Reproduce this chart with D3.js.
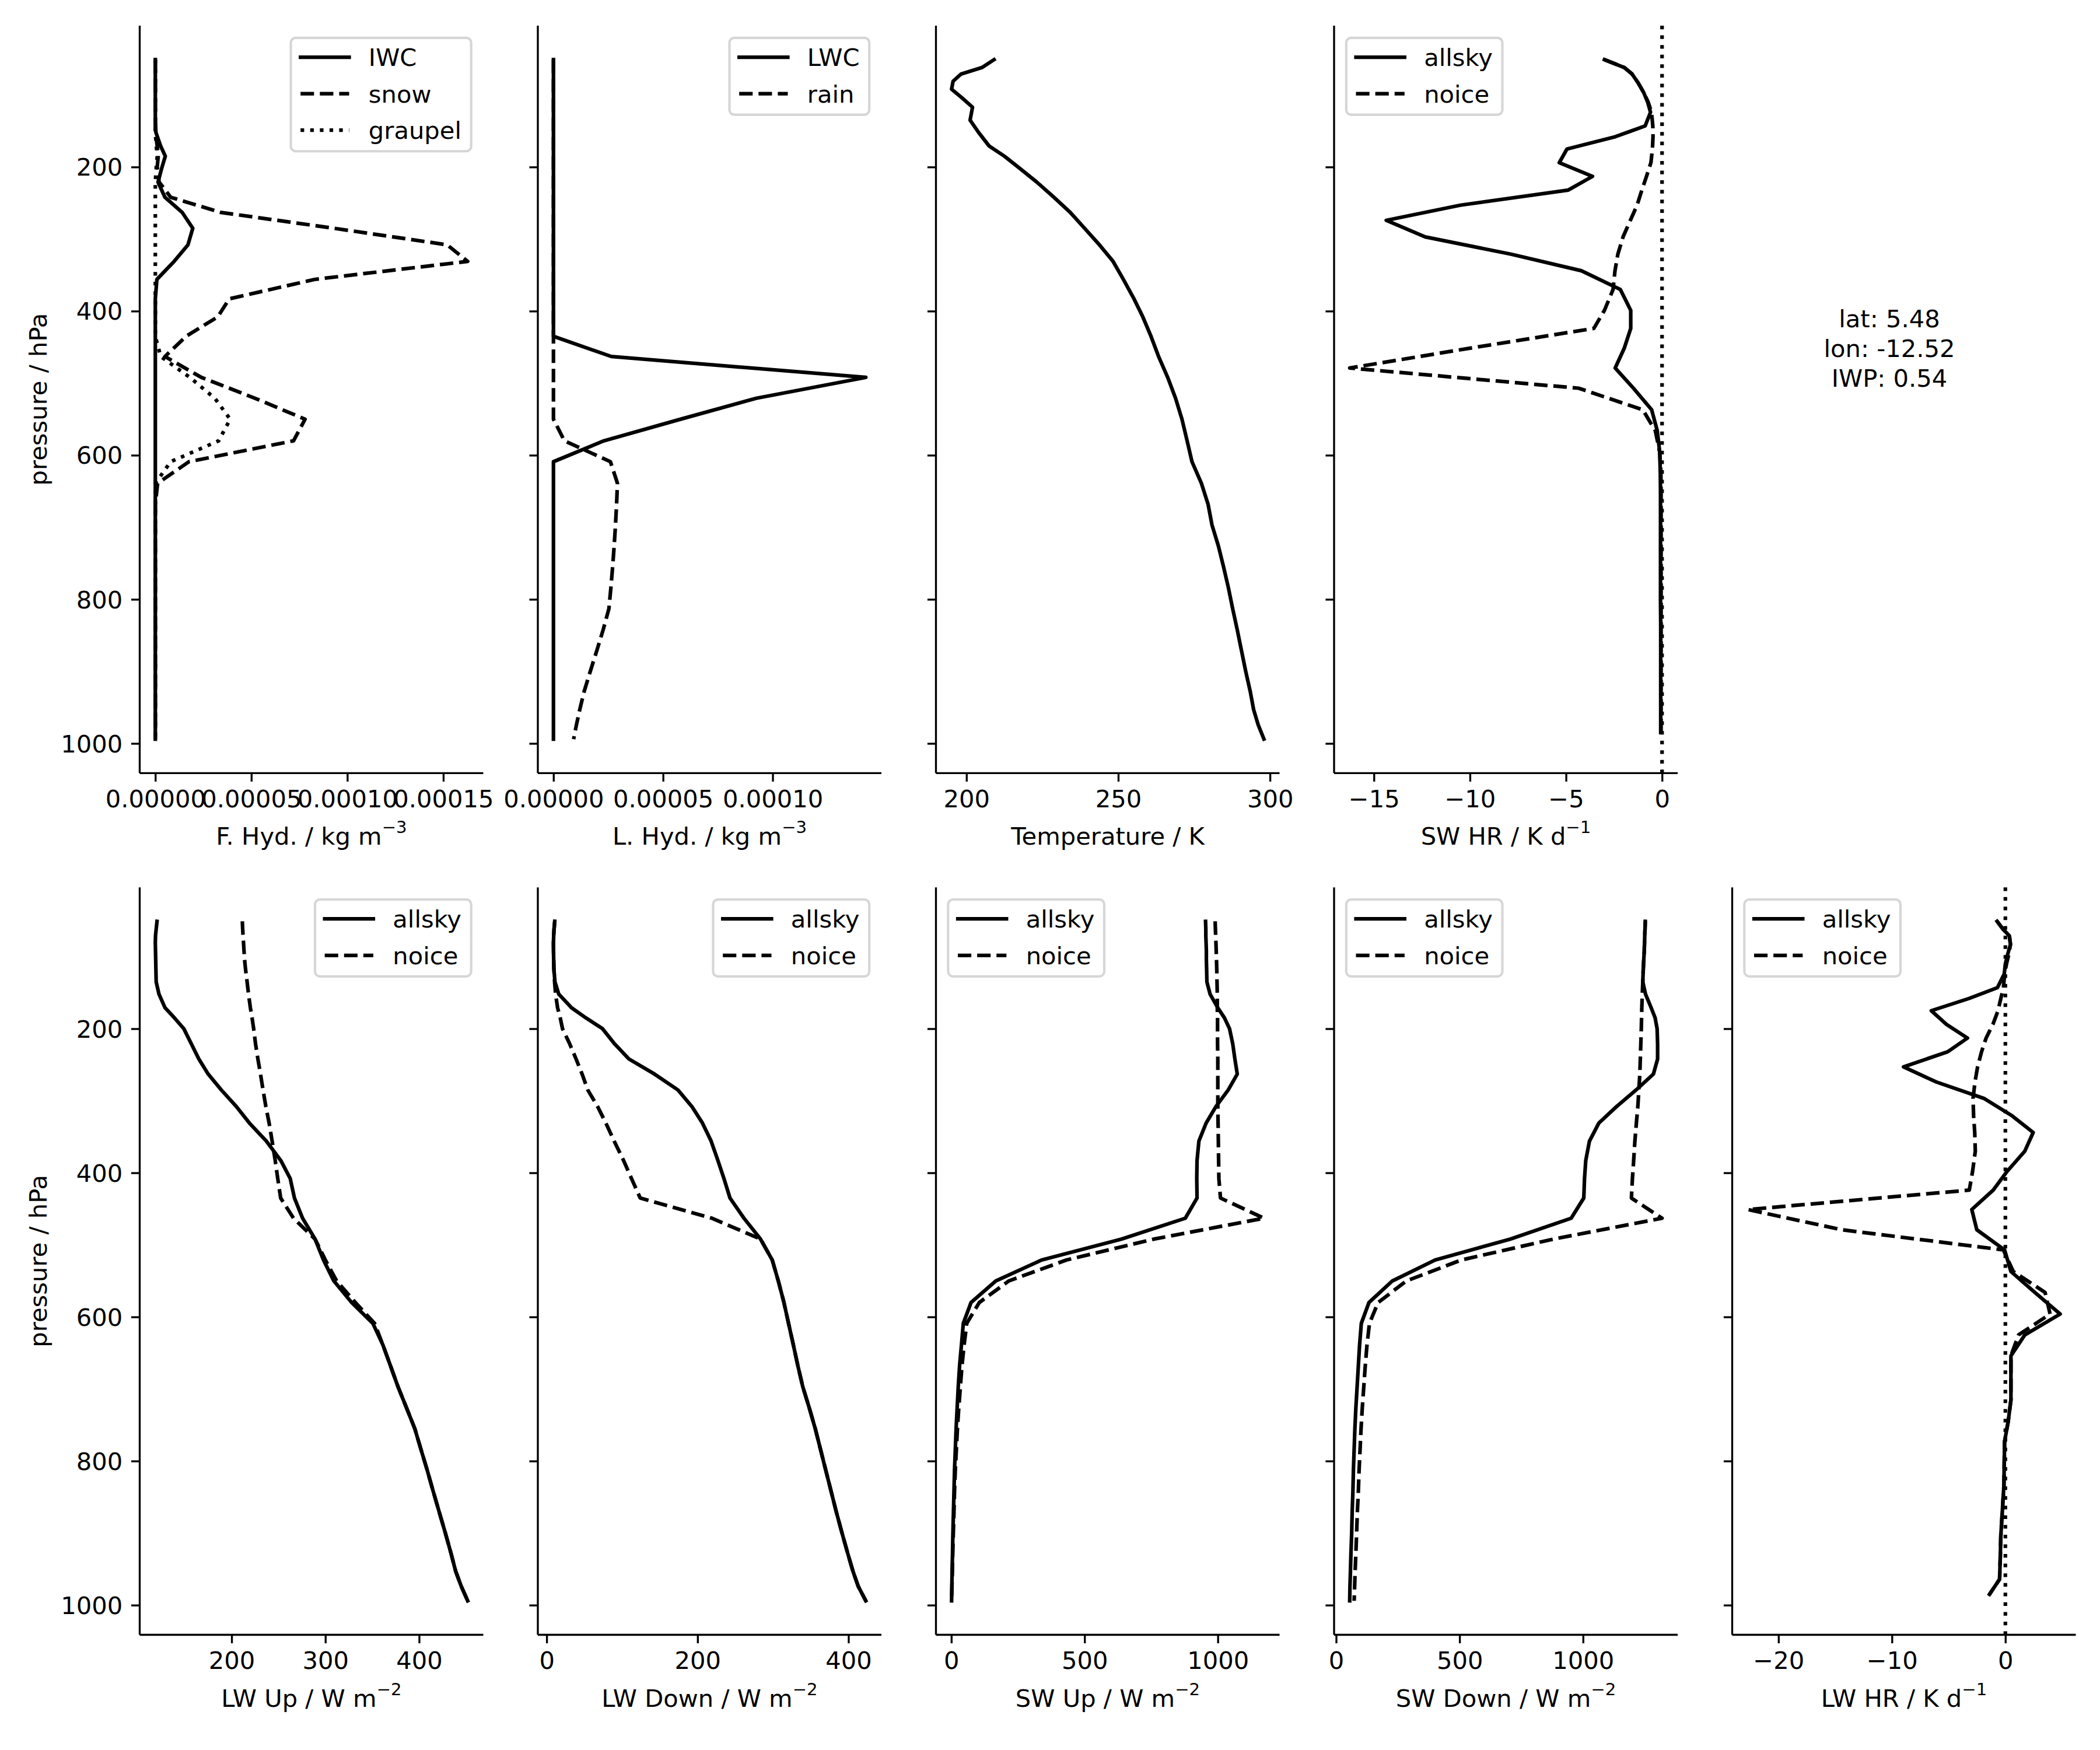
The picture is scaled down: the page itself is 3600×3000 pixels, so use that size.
<!DOCTYPE html>
<html>
<head>
<meta charset="utf-8">
<script src="https://cdn.jsdelivr.net/npm/d3@7"></script>
<style>
  body { margin: 0; background: #fff; }
  text { font-family: "DejaVu Sans", sans-serif; fill: #000; }
</style>
</head>
<body>
<svg id="chart" width="3600" height="3000"></svg>
<script>
// ---------------- DATA ----------------
// pressure levels (hPa) of state variables and fluxes
const pressure = [51, 62, 71, 81, 92, 104, 117, 135, 152, 171, 185, 200, 221, 242, 263, 285, 308, 331, 356, 383,
  408, 435, 463, 492, 521, 550, 580, 609, 639, 668, 697, 726, 755, 784, 813, 842, 871, 900, 928, 953, 974, 994];
// pressure levels (hPa) of heating rates
const pressureHR = [51, 62, 71, 83, 97, 110, 124, 143, 158, 175, 194, 213, 232, 253, 274, 297, 321, 344, 370, 399,
  424, 451, 479, 507, 537, 566, 596, 625, 654, 685, 715, 745, 773, 803, 834, 865, 903, 934, 964, 985];

// frozen hydrometeors (kg m-3)
const iwc = [0, 0, 0, 0, 0, 0, 0, 0, 3e-7, 2.8e-6, 5.2e-6, 3.5e-6, 1.4e-6, 5e-6, 1.4e-5, 1.95e-5, 1.7e-5, 9.8e-6, 8e-7, 0,
  0, 0, 0, 0, 0, 0, 0, 0, 0, 0, 0, 0, 0, 0, 0, 0, 0, 0, 0, 0, 0, 0];
const snow = [0, 0, 0, 0, 0, 0, 0, 0, 0, 1e-6, 1.5e-6, 1e-6, 2e-6, 8e-6, 3.4e-5, 9.3e-5, 1.52e-4, 1.627e-4, 8.3e-5, 3.85e-5,
  3.25e-5, 1.6e-5, 5e-6, 2.4e-5, 5.2e-5, 7.8e-5, 7.2e-5, 1.75e-5, 1.2e-6, 0, 0, 0, 0, 0, 0, 0, 0, 0, 0, 0, 0, 0];
const graupel = [0, 0, 0, 0, 0, 0, 0, 0, 0, 5e-7, 1e-6, 5e-7, 0, 0, 0, 0, 0, 0, 0, 0,
  0, 0, 2.8e-6, 1.8e-5, 3.1e-5, 3.9e-5, 3.3e-5, 8e-6, 0, 0, 0, 0, 0, 0, 0, 0, 0, 0, 0, 0, 0, 0];
// liquid hydrometeors (kg m-3)
const lwc = [0, 0, 0, 0, 0, 0, 0, 0, 0, 0, 0, 0, 0, 0, 0, 0, 0, 0, 0, 0,
  0, 0, 2.64e-5, 1.425e-4, 9.25e-5, 5.8e-5, 2.3e-5, 0, 0, 0, 0, 0, 0, 0, 0, 0, 0, 0, 0, 0, 0, 0];
const rain = [0, 0, 0, 0, 0, 0, 0, 0, 0, 0, 0, 0, 0, 0, 0, 0, 0, 0, 0, 0,
  0, 0, 0, 0, 0, 0, 5e-6, 2.6e-5, 2.92e-5, 2.88e-5, 2.83e-5, 2.77e-5, 2.7e-5, 2.62e-5, 2.53e-5, 2.27e-5, 1.98e-5, 1.68e-5, 1.4e-5, 1.2e-5, 1.05e-5, 9.2e-6];
// temperature (K)
const temperature = [209.1, 205.1, 198.2, 195.6, 195.1, 198.5, 202.0, 201.2, 204.0, 207.5, 212.5, 217.0, 223.2, 228.8, 234.2, 238.9, 243.8, 248.3, 251.7, 255.2,
  258.1, 260.8, 263.3, 266.3, 268.9, 271.0, 272.7, 274.3, 277.4, 279.6, 280.9, 283.0, 284.7, 286.3, 287.7, 289.2, 290.6, 292.0, 293.5, 294.6, 296.1, 298.0];
// shortwave heating rate (K d-1)
const swHrAllsky = [-3.0, -1.96, -1.56, -1.25, -0.95, -0.75, -0.6, -0.88, -2.44, -4.95, -5.35, -3.62, -4.88, -10.5, -14.36, -12.33, -7.86, -4.2, -2.17, -1.63,
  -1.63, -1.96, -2.44, -1.49, -0.54, -0.25, -0.12, -0.09, -0.08, -0.08, -0.08, -0.08, -0.08, -0.08, -0.07, -0.07, -0.07, -0.07, -0.07, -0.07];
const swHrNoice = [-3.0, -1.96, -1.56, -1.25, -0.95, -0.72, -0.55, -0.48, -0.47, -0.5, -0.58, -0.81, -1.05, -1.3, -1.65, -2.03, -2.3, -2.45, -2.55, -3.0,
  -3.55, -9.9, -16.26, -4.34, -1.0, -0.35, -0.12, -0.06, -0.05, -0.05, -0.05, -0.05, -0.05, -0.05, -0.05, -0.05, -0.05, -0.05, -0.05, -0.05];
// longwave fluxes (W m-2)
const lwUpAllsky = [120.4, 119.5, 118.8, 118.6, 118.8, 119.0, 119.2, 119.5, 122.5, 129, 139, 149, 157, 165, 175, 189, 205, 219, 237, 252.5,
  262.5, 267, 275.7, 289, 298, 309, 328, 350.7, 361.4, 369.5, 377.5, 386.5, 395.4, 402, 408.7, 415, 421.5, 428, 434, 439, 445, 451.8];
const lwUpNoice = [211.4, 211.8, 212.2, 212.7, 213.2, 213.8, 214.8, 216.5, 218, 220, 221.8, 223.5, 225.5, 228, 230.8, 233.5, 236.5, 240, 243.2, 246.5,
  249.2, 252.3, 266, 289, 300, 312, 332, 352.5, 361.4, 369.5, 377.5, 386.5, 395.4, 402, 408.7, 415, 421.5, 428, 434, 439, 445, 451.8];
const lwDownAllsky = [10.7, 9.8, 9.3, 9.0, 9.1, 9.3, 9.6, 11, 16, 33, 52, 74, 90, 109, 143, 174, 192.5, 206.5, 218, 227,
  235, 243, 261.5, 283.5, 299, 307, 314.5, 320.6, 327, 333, 339.5, 348, 356, 363, 370, 377, 384, 391.5, 399, 406, 413, 423];
const lwDownNoice = [10.7, 9.8, 9.3, 9.0, 9.1, 9.3, 9.6, 10.5, 11.8, 14.5, 18, 21, 30.5, 39, 47, 54.5, 67.5, 78.5, 89.5, 102,
  112.5, 124, 219, 283.5, 299, 307, 314.5, 320.6, 327, 333, 339.5, 348, 356, 363, 370, 377, 384, 391.5, 399, 406, 413, 423];
// shortwave fluxes (W m-2)
const swUpAllsky = [954, 955, 955, 956, 957, 957, 958, 959, 971, 1000, 1025, 1044, 1056, 1064, 1073, 1039, 993, 956, 929, 922,
  921, 922, 878, 638, 339, 167, 74, 45, 38, 31, 26, 22, 18, 15, 12, 10, 8, 6, 4.5, 3, 2, 1];
const swUpNoice = [990, 991, 992, 993, 994, 995, 996, 997, 998, 998, 999, 999, 999, 1000, 1000, 1000, 1000, 1001, 1002, 1003,
  1004, 1010, 1173, 760, 432, 216, 105, 58, 48, 40, 34, 28, 23, 19, 15, 12, 10, 7.5, 5.5, 4, 2.5, 1.5];
const swDownAllsky = [1252, 1251, 1250, 1249, 1248, 1246, 1244, 1242, 1253, 1276, 1292, 1300, 1302, 1302, 1285, 1215, 1136, 1064, 1026, 1011,
  1006, 1003, 952, 705, 401, 228, 133, 102, 95, 90, 85, 80, 76, 73, 70, 68, 65, 63, 60, 58, 56, 55];
const swDownNoice = [1252, 1251, 1250, 1249, 1248, 1246, 1244, 1242, 1240, 1238, 1237, 1236, 1234, 1232, 1230, 1226, 1222, 1216, 1210, 1205,
  1200, 1196, 1320, 880, 507, 285, 170, 135, 125, 118, 112, 106, 101, 97, 93, 90, 86, 83, 80, 77, 75, 73];
// longwave heating rate (K d-1)
const lwHrAllsky = [-0.73, -0.2, 0.35, 0.45, 0.2, 0.0, -0.1, -0.7, -3.2, -6.53, -5.19, -3.34, -5.08, -8.98, -6.08, -1.85, 0.6, 2.45, 1.71, 0.1,
  -1.07, -2.96, -2.52, -0.07, 0.49, 2.6, 4.83, 1.71, 0.49, 0.49, 0.49, 0.25, -0.07, -0.1, -0.13, -0.25, -0.4, -0.45, -0.51, -1.4];
const lwHrNoice = [-0.73, -0.2, 0.35, 0.45, 0.3, 0.1, -0.07, -0.17, -0.4, -0.65, -1.1, -1.7, -2.1, -2.45, -2.68, -2.85, -2.8, -2.7, -2.65, -2.9,
  -3.18, -22.7, -14.43, -0.18, 0.7, 3.5, 3.94, 1.16, 0.49, 0.49, 0.49, 0.25, -0.07, -0.1, -0.13, -0.25, -0.4, -0.45, -0.51, -1.4];

// tick values
const pressureTicks = [200, 400, 600, 800, 1000];
const fHydTicks = [0, 0.00005, 0.0001, 0.00015];
const lHydTicks = [0, 0.00005, 0.0001];
const tempTicks = [200, 250, 300];
const swHrTicks = [-15, -10, -5, 0];
const lwUpTicks = [200, 300, 400];
const lwDownTicks = [0, 200, 400];
const swUpTicks = [0, 500, 1000];
const swDownTicks = [0, 500, 1000];
const lwHrTicks = [-20, -10, 0];
const infoLines = ["lat: 5.48", "lon: -12.52", "IWP: 0.54"];

// ---------------- LAYOUT ----------------
const PT = 300 / 72;
const FS = 10 * PT;           // 41.67 px
const LW = 1.5 * PT;          // 6.25 px
const SPINE = 0.8 * PT;
const TICK = 3.5 * PT;
const DASH = { solid: null, dashed: (3.7 * LW) + "," + (1.6 * LW), dotted: (1 * LW) + "," + (1.65 * LW) };

const left0 = 239.5, colStep = 682.5, axW = 589;
const rowTop = [44, 1521.2], axH = 1281.3;

const fmt5 = d3.format(".5f");
const fmtInt = d3.format("d");

const panels = [
  { row: 0, col: 0, label: ["F. Hyd. / kg m", "\u22123"], ticks: fHydTicks, fmt: fmt5, legend: "ur",
    series: [{ p: pressure, v: iwc, s: "solid", name: "IWC" }, { p: pressure, v: snow, s: "dashed", name: "snow" }, { p: pressure, v: graupel, s: "dotted", name: "graupel" }] },
  { row: 0, col: 1, label: ["L. Hyd. / kg m", "\u22123"], ticks: lHydTicks, fmt: fmt5, legend: "ur",
    series: [{ p: pressure, v: lwc, s: "solid", name: "LWC" }, { p: pressure, v: rain, s: "dashed", name: "rain" }] },
  { row: 0, col: 2, label: ["Temperature / K", null], ticks: tempTicks, fmt: fmtInt, legend: null,
    series: [{ p: pressure, v: temperature, s: "solid", name: "T" }] },
  { row: 0, col: 3, label: ["SW HR / K d", "\u22121"], ticks: swHrTicks, fmt: fmtInt, legend: "ul", zero: true,
    series: [{ p: pressureHR, v: swHrAllsky, s: "solid", name: "allsky" }, { p: pressureHR, v: swHrNoice, s: "dashed", name: "noice" }] },
  { row: 1, col: 0, label: ["LW Up / W m", "\u22122"], ticks: lwUpTicks, fmt: fmtInt, legend: "ur",
    series: [{ p: pressure, v: lwUpAllsky, s: "solid", name: "allsky" }, { p: pressure, v: lwUpNoice, s: "dashed", name: "noice" }] },
  { row: 1, col: 1, label: ["LW Down / W m", "\u22122"], ticks: lwDownTicks, fmt: fmtInt, legend: "ur",
    series: [{ p: pressure, v: lwDownAllsky, s: "solid", name: "allsky" }, { p: pressure, v: lwDownNoice, s: "dashed", name: "noice" }] },
  { row: 1, col: 2, label: ["SW Up / W m", "\u22122"], ticks: swUpTicks, fmt: fmtInt, legend: "ul",
    series: [{ p: pressure, v: swUpAllsky, s: "solid", name: "allsky" }, { p: pressure, v: swUpNoice, s: "dashed", name: "noice" }] },
  { row: 1, col: 3, label: ["SW Down / W m", "\u22122"], ticks: swDownTicks, fmt: fmtInt, legend: "ul",
    series: [{ p: pressure, v: swDownAllsky, s: "solid", name: "allsky" }, { p: pressure, v: swDownNoice, s: "dashed", name: "noice" }] },
  { row: 1, col: 4, label: ["LW HR / K d", "\u22121"], ticks: lwHrTicks, fmt: fmtInt, legend: "ul", zero: true,
    series: [{ p: pressureHR, v: lwHrAllsky, s: "solid", name: "allsky" }, { p: pressureHR, v: lwHrNoice, s: "dashed", name: "noice" }] }
];

// ---------------- DRAW ----------------
const svg = d3.select("#chart");
svg.append("rect").attr("width", 3600).attr("height", 3000).attr("fill", "#fff");

// shared pressure axis (matplotlib-like 5% margins)
const pExt = d3.extent(pressure.concat(pressureHR));
const pPad = (pExt[1] - pExt[0]) * 0.05;

panels.forEach(P => {
  const x0 = left0 + P.col * colStep, x1 = x0 + axW;
  const y0 = rowTop[P.row], y1 = y0 + axH;
  const g = svg.append("g");

  const vals = P.series.flatMap(s => s.v);
  if (P.zero) vals.push(0);
  const ext = d3.extent(vals);
  const pad = (ext[1] - ext[0]) * 0.05;
  const x = d3.scaleLinear().domain([ext[0] - pad, ext[1] + pad]).range([x0, x1]);
  const y = d3.scaleLinear().domain([pExt[0] - pPad, pExt[1] + pPad]).range([y0, y1]);

  // data lines
  P.series.forEach(s => {
    const line = d3.line().x((d, i) => x(s.v[i])).y(d => y(d));
    g.append("path")
      .attr("d", line(s.p))
      .attr("fill", "none")
      .attr("stroke", "#000")
      .attr("stroke-width", LW)
      .attr("stroke-linejoin", "round")
      .attr("stroke-linecap", s.s === "solid" ? "square" : "butt")
      .attr("stroke-dasharray", DASH[s.s]);
  });

  // zero line (axvline)
  if (P.zero) {
    g.append("line")
      .attr("x1", x(0)).attr("x2", x(0)).attr("y1", y0).attr("y2", y1)
      .attr("stroke", "#000").attr("stroke-width", LW)
      .attr("stroke-dasharray", DASH.dotted);
  }

  // x axis
  const xa = g.append("g").attr("transform", `translate(0,${y1})`)
    .call(d3.axisBottom(x).tickValues(P.ticks).tickFormat(P.fmt).tickSize(TICK).tickSizeOuter(0).tickPadding(TICK));
  xa.select(".domain").attr("stroke-width", SPINE).attr("d", `M${x0},0H${x1}`);
  xa.selectAll(".tick line").attr("stroke-width", SPINE);
  xa.selectAll(".tick text").attr("font-size", FS).attr("y", 2 * TICK).attr("dy", "0.71em");

  // y axis
  const ya = g.append("g").attr("transform", `translate(${x0},0)`)
    .call(d3.axisLeft(y).tickValues(pressureTicks).tickFormat(P.col === 0 ? fmtInt : () => "")
      .tickSize(TICK).tickSizeOuter(0).tickPadding(TICK));
  ya.select(".domain").attr("stroke-width", SPINE).attr("d", `M0,${y0}V${y1}`);
  ya.selectAll(".tick line").attr("stroke-width", SPINE);
  ya.selectAll(".tick text").attr("font-size", FS).attr("dy", "0.35em");
  xa.attr("font-family", null).attr("font-size", null);
  ya.attr("font-family", null).attr("font-size", null);

  // x label
  const xl = g.append("text").attr("x", (x0 + x1) / 2).attr("y", y1 + 123)
    .attr("text-anchor", "middle").attr("font-size", FS);
  xl.append("tspan").text(P.label[0]);
  if (P.label[1]) xl.append("tspan").attr("dy", -20).attr("font-size", FS * 0.7).text(P.label[1]);

  // y label
  if (P.col === 0) {
    g.append("text").attr("transform", `translate(80,${(y0 + y1) / 2}) rotate(-90)`)
      .attr("text-anchor", "middle").attr("font-size", FS).text("pressure / hPa");
  }

  // legend
  if (P.legend) {
    const padB = 0.4 * FS, hl = 2 * FS, htp = 0.8 * FS, bap = 0.5 * FS;
    const rowH = 62.6, firstC = 33.2, bottomPad = 36;
    const n = P.series.length;
    const lg = g.append("g");
    const rect = lg.append("rect");
    const texts = P.series.map(s => lg.append("text").attr("font-size", FS).text(s.name));
    const tw = d3.max(texts, t => t.node().getComputedTextLength());
    const bw = padB + hl + htp + tw + padB;
    const bh = firstC + (n - 1) * rowH + bottomPad;
    const bx = P.legend === "ur" ? x1 - bap - bw : x0 + bap;
    const by = y0 + bap;
    rect.attr("x", bx).attr("y", by).attr("width", bw).attr("height", bh)
      .attr("rx", 0.2 * FS).attr("ry", 0.2 * FS)
      .attr("fill", "#fff").attr("fill-opacity", 0.8)
      .attr("stroke", "#ccc").attr("stroke-opacity", 0.8).attr("stroke-width", 1 * PT);
    P.series.forEach((s, i) => {
      const cy = by + firstC + i * rowH;
      lg.append("line").attr("x1", bx + padB).attr("x2", bx + padB + hl).attr("y1", cy).attr("y2", cy)
        .attr("stroke", "#000").attr("stroke-width", LW)
        .attr("stroke-linecap", s.s === "solid" ? "square" : "butt")
        .attr("stroke-dasharray", DASH[s.s]);
      texts[i].attr("x", bx + padB + hl + htp).attr("y", cy + 15);
    });
  }
});

// info text (top-right)
const info = svg.append("text").attr("text-anchor", "middle").attr("font-size", FS);
infoLines.forEach((t, i) => {
  info.append("tspan").attr("x", 3239).attr("y", 561 + i * 51.2).text(t);
});
</script>
</body>
</html>
